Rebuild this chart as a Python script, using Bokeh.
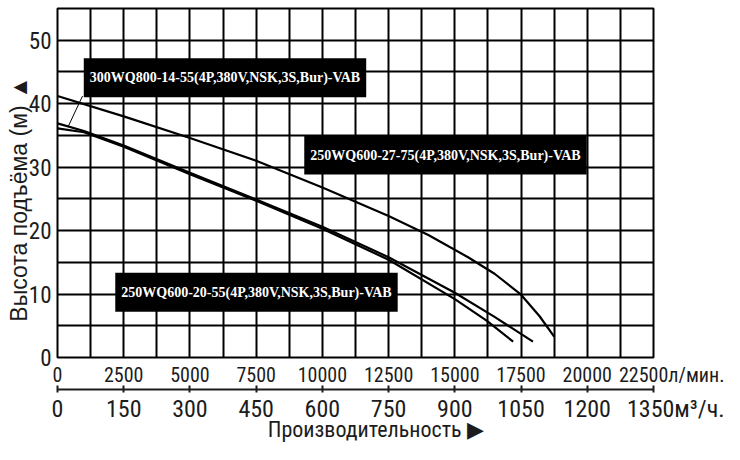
from bokeh.plotting import figure
from bokeh.models import Range1d, LinearAxis, FixedTicker, Label
from bokeh.embed import file_html
from bokeh.resources import INLINE

# flow (l/min) / head (m)
flow_a = [0, 2500, 5000, 7500, 10000, 12500, 14000, 15500, 16500, 17500, 18200, 18750]
head_a = [41.2, 38.0, 34.6, 31.0, 26.8, 22.3, 19.3, 15.8, 13.2, 9.9, 6.5, 3.3]
flow_b = [0, 1000, 2500, 5000, 7500, 10000, 12500, 15000, 16500, 17950]
head_b = [36.9, 35.7, 33.4, 29.1, 24.9, 20.6, 15.8, 10.2, 6.4, 2.5]
flow_c = [0, 1000, 2500, 5000, 7500, 10000, 12500, 15000, 16200, 17200]
head_c = [36.1, 35.5, 33.2, 28.9, 24.7, 20.3, 15.4, 9.2, 5.8, 2.5]

# leader from the 300WQ800 tag down to its curve
leader_x = [944, 415]
leader_y = [41.2, 36.5]

tag_text = ["300WQ800-14-55(4P,380V,NSK,3S,Bur)-VAB",
            "250WQ600-27-75(4P,380V,NSK,3S,Bur)-VAB",
            "250WQ600-20-55(4P,380V,NSK,3S,Bur)-VAB"]
tag_x = [6323, 14647, 7512]
tag_y = [44.1, 31.9, 10.3]

lpm_ticks = [0, 2500, 5000, 7500, 10000, 12500, 15000, 17500, 20000, 22500]
m3h_ticks = [0, 150, 300, 450, 600, 750, 900, 1050, 1200, 1350]
head_ticks = [0, 10, 20, 30, 40, 50]
grid_x = list(range(0, 22501, 1250))
grid_y = list(range(0, 56, 5))

NB = "\u00a0"
NARROW = "Roboto Condensed, Liberation Sans"
INK = "#1c1c1c"

p = figure(width=724, height=444, x_range=Range1d(0, 22500), y_range=Range1d(0, 55),
           output_backend="svg", toolbar_location=None,
           min_border_left=57, min_border_right=71, min_border_top=8, min_border_bottom=85)
p.extra_x_ranges = {"m3h": Range1d(0, 1350)}
p.outline_line_color = "black"
p.outline_line_width = 2

p.xgrid.ticker = FixedTicker(ticks=grid_x)
p.ygrid.ticker = FixedTicker(ticks=grid_y)
for g in (p.xgrid, p.ygrid):
    g.grid_line_color = "black"
    g.grid_line_width = 2
    g.grid_line_alpha = 1

ax1 = p.below[0]
ax1.ticker = FixedTicker(ticks=lpm_ticks)
ax1.axis_line_color = None
ax1.major_tick_line_color = None
ax1.minor_tick_line_color = None
ax1.major_label_standoff = -1
ax1.major_label_text_font = NARROW
ax1.major_label_text_font_size = "20px"
ax1.major_label_text_color = INK
ax1.major_label_overrides = {22500: NB * 14 + "22500л/мин."}

ax2 = LinearAxis(x_range_name="m3h", ticker=FixedTicker(ticks=m3h_ticks))
ax2.axis_line_width = 2
ax2.axis_line_color = INK
ax2.major_tick_in = 4
ax2.major_tick_out = 3
ax2.major_tick_line_width = 2
ax2.major_tick_line_color = INK
ax2.minor_tick_line_color = None
ax2.major_label_standoff = 2
ax2.major_label_text_font = NARROW
ax2.major_label_text_font_size = "24px"
ax2.major_label_text_color = INK
ax2.major_label_overrides = {1350: NB * 9 + "1350м³/ч."}
ax2.axis_label = NB * 8 + "Производительность ▶"
ax2.axis_label_standoff = -9
ax2.axis_label_text_font = NARROW
ax2.axis_label_text_font_style = "normal"
ax2.axis_label_text_font_size = "22px"
ax2.axis_label_text_color = INK
p.add_layout(ax2, "below")

ay = p.left[0]
ay.ticker = FixedTicker(ticks=head_ticks)
ay.axis_line_color = None
ay.major_tick_line_color = None
ay.minor_tick_line_color = None
ay.major_label_standoff = 0
ay.major_label_text_font = NARROW
ay.major_label_text_font_size = "23px"
ay.major_label_text_color = INK
ay.axis_label = "Высота подъёма (м) ▲" + NB * 5
ay.axis_label_standoff = -6
ay.axis_label_text_font = "Liberation Sans"
ay.axis_label_text_font_style = "normal"
ay.axis_label_text_font_size = "23px"
ay.axis_label_text_color = INK

for fx, hy in ((flow_a, head_a), (flow_b, head_b), (flow_c, head_c)):
    p.line(fx, hy, line_color="black", line_width=2.2)
p.line(leader_x, leader_y, line_color="black", line_width=1)

for t, x, y in zip(tag_text, tag_x, tag_y):
    p.add_layout(Label(x=x, y=y, text=t, text_align="center", text_baseline="middle",
                       text_font="Liberation Serif", text_font_style="bold",
                       text_font_size="14px", text_color="white",
                       background_fill_color="black", padding=(6, 12)))

open("out.html", "w").write(file_html(p, INLINE))
